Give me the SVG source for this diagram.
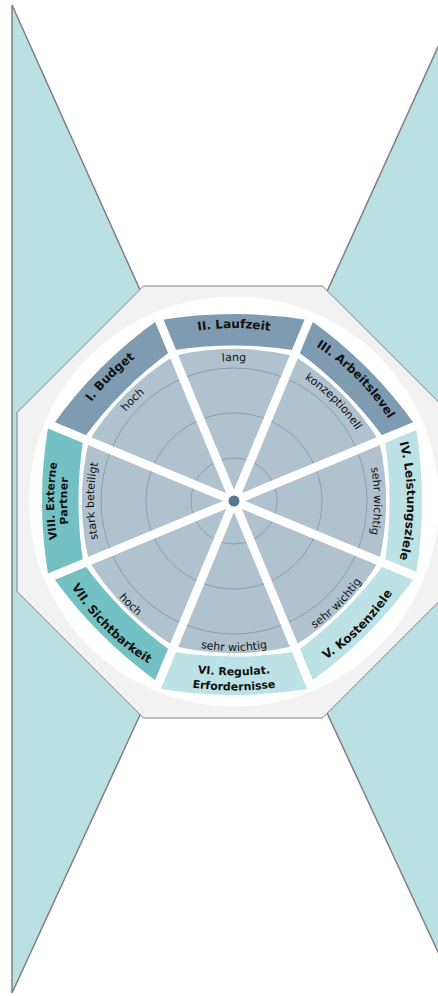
<svg xmlns="http://www.w3.org/2000/svg" xmlns:xlink="http://www.w3.org/1999/xlink" width="438" height="996" viewBox="0 0 438 996">
<defs>
<style>
.bg{fill:#bae0e3;stroke:#808080;stroke-width:1.5}
.oct{fill:#f2f2f2;stroke:#808080;stroke-width:1}
.dark{fill:#7f9bb1}
.mid{fill:#74c1c5}
.light{fill:#bde2e5}
.disc{fill:#afc2cd}
.grid{fill:none;stroke:#7f95ac;stroke-width:0.8}
.spoke{stroke:#ffffff;stroke-width:8.5;stroke-linecap:butt}
.lbl{font-family:"DejaVu Sans",sans-serif;font-weight:bold;font-size:12px;fill:#111111;text-anchor:middle}
.lbl2{font-size:11px}
.val{font-family:"DejaVu Sans",sans-serif;font-size:11px;fill:#111111;text-anchor:middle}
</style>
<path id="b188" d="M158.75,319.34 A450,450 0 0 1 309.25,319.34 L296.4,350.4 A400,400 0 0 0 171.6,350.4 Z"/>
<path id="b187" d="M159.14,320.27 A450,450 0 0 1 308.86,320.27 L296.4,350.4 A400,400 0 0 0 171.6,350.4 Z"/>
<path id="b192" d="M157.21,315.6 A450,450 0 0 1 310.79,315.6 L296.4,350.4 A400,400 0 0 0 171.6,350.4 Z"/>
<path id="b194" d="M156.43,313.73 A450,450 0 0 1 311.57,313.73 L296.4,350.4 A400,400 0 0 0 171.6,350.4 Z"/>
<path id="tb173" d="M139,348.54 A230,230 0 0 1 329,348.54"/>
<path id="tb180" d="M139,341.54 A230,230 0 0 1 329,341.54"/>
<path id="tb167" d="M139,354.54 A230,230 0 0 1 329,354.54"/>
<path id="bb182" d="M139,662.46 A230,230 0 0 0 329,662.46"/>
<path id="bb175" d="M149,663.1 A300,300 0 0 0 319,663.1"/>
<path id="bb189" d="M149,678.1 A300,300 0 0 0 319,678.1"/>
<path id="tv140" d="M159,377.37 A180,180 0 0 1 309,377.37"/>
<path id="bv150" d="M159,634.63 A180,180 0 0 0 309,634.63"/>
</defs>

<g id="background">
<polygon class="bg" points="12,5 152.8,318.5 152.8,687.2 12,993"/>
<polygon class="bg" points="457,5 315,318 315,687 457,993"/>
<polygon class="oct" points="143.53,286 322.47,286 449,412.53 449,591.47 322.47,718 143.53,718 17,591.47 17,412.53"/>
<circle cx="234" cy="501.5" r="205" fill="#ffffff"/>
</g>

<g id="seg-I">
<use xlink:href="#b188" class="dark" transform="rotate(-45 234 501)"/>
<text class="lbl" transform="rotate(-45 234 501)"><textPath xlink:href="#tb173" startOffset="50%">I. Budget</textPath></text>
</g>
<g id="seg-II">
<use xlink:href="#b187" class="dark"/>
<text class="lbl"><textPath xlink:href="#tb173" startOffset="50%">II. Laufzeit</textPath></text>
</g>
<g id="seg-III">
<use xlink:href="#b188" class="dark" transform="rotate(45 234 501)"/>
<text class="lbl" transform="rotate(45 234 501)"><textPath xlink:href="#tb173" startOffset="50%">III. Arbeitslevel</textPath></text>
</g>
<g id="seg-IV">
<use xlink:href="#b188" class="light" transform="rotate(90 234 501)"/>
<text class="lbl" transform="rotate(90 234 501)"><textPath xlink:href="#tb173" startOffset="50%">IV. Leistungsziele</textPath></text>
</g>
<g id="seg-V">
<use xlink:href="#b188" class="light" transform="rotate(135 234 501)"/>
<text class="lbl" transform="rotate(-45 234 501)"><textPath xlink:href="#bb182" startOffset="50%">V. Kostenziele</textPath></text>
</g>
<g id="seg-VI">
<use xlink:href="#b194" class="light" transform="rotate(180 234 501)"/>
<text class="lbl lbl2"><textPath xlink:href="#bb175" startOffset="50%">VI. Regulat.</textPath></text>
<text class="lbl lbl2"><textPath xlink:href="#bb189" startOffset="50%">Erfordernisse</textPath></text>
</g>
<g id="seg-VII">
<use xlink:href="#b188" class="mid" transform="rotate(225 234 501)"/>
<text class="lbl" transform="rotate(45 234 501)"><textPath xlink:href="#bb182" startOffset="50%">VII. Sichtbarkeit</textPath></text>
</g>
<g id="seg-VIII">
<use xlink:href="#b192" class="mid" transform="rotate(270 234 501)"/>
<text class="lbl lbl2" transform="rotate(-90 234 501)"><textPath xlink:href="#tb180" startOffset="50%">VIII. Externe</textPath></text>
<text class="lbl lbl2" transform="rotate(-90 234 501)"><textPath xlink:href="#tb167" startOffset="50%">Partner</textPath></text>
</g>

<g id="disc">
<path class="disc" d="M173.9,355.9 A264,264 0 0 1 294.1,355.9 A264,264 0 0 1 379.1,440.9 A264,264 0 0 1 379.1,561.1 A264,264 0 0 1 294.1,646.1 A264,264 0 0 1 173.9,646.1 A264,264 0 0 1 88.9,561.1 A264,264 0 0 1 88.9,440.9 A264,264 0 0 1 173.9,355.9 Z"/>
<circle class="grid" cx="234" cy="501" r="43"/>
<circle class="grid" cx="234" cy="501" r="88"/>
<circle class="grid" cx="234" cy="501" r="133"/>
</g>

<g id="connectors">
<line class="spoke" x1="45.5" y1="422.9" x2="422.5" y2="579.1"/>
<line class="spoke" x1="155.9" y1="312.5" x2="312.1" y2="689.5"/>
<line class="spoke" x1="312.1" y1="312.5" x2="155.9" y2="689.5"/>
<line class="spoke" x1="422.5" y1="422.9" x2="45.5" y2="579.1"/>
<circle cx="234" cy="501" r="5.5" fill="#587691"/>
</g>

<g id="values">
<text id="val-I" class="val" transform="rotate(-45 234 501)"><textPath xlink:href="#tv140" startOffset="50%">hoch</textPath></text>
<text id="val-II" class="val"><textPath xlink:href="#tv140" startOffset="50%">lang</textPath></text>
<text id="val-III" class="val" transform="rotate(45 234 501)"><textPath xlink:href="#tv140" startOffset="50%">konzeptionell</textPath></text>
<text id="val-IV" class="val" transform="rotate(90 234 501)"><textPath xlink:href="#tv140" startOffset="50%">sehr wichtig</textPath></text>
<text id="val-V" class="val" transform="rotate(-45 234 501)"><textPath xlink:href="#bv150" startOffset="50%">sehr wichtig</textPath></text>
<text id="val-VI" class="val"><textPath xlink:href="#bv150" startOffset="50%">sehr wichtig</textPath></text>
<text id="val-VII" class="val" transform="rotate(45 234 501)"><textPath xlink:href="#bv150" startOffset="50%">hoch</textPath></text>
<text id="val-VIII" class="val" transform="rotate(-90 234 501)"><textPath xlink:href="#tv140" startOffset="50%">stark beteiligt</textPath></text>
</g>
</svg>
